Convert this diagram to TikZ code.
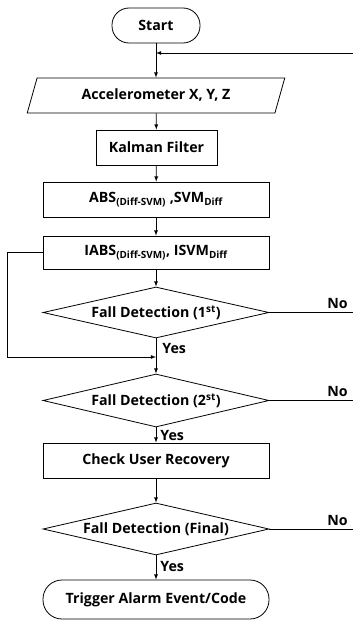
\documentclass[tikz,border=0pt]{standalone}
\usepackage{fontspec}
\setmainfont{Open Sans}
\usetikzlibrary{
  % enables trapezium and diamond
  shapes.geometric,%
  arrows,
  calc
}
\tikzset{>=latex}
\tikzset{every node/.style={font=\fontsize{14.2}{17}\selectfont\bfseries}}
\tikzset{
  terminal/.style={draw, rectangle, rounded corners=17pt, minimum height=35pt, inner sep=0pt},
  process/.style={draw, rectangle, minimum width=226pt, minimum height=35pt, inner sep=0pt},
  io/.style={draw, trapezium, trapezium left angle=64, trapezium right angle=116,
    trapezium stretches=true, minimum width=258pt, minimum height=35pt, inner sep=0pt},
  decision/.style={draw, diamond, shape aspect=4.35, minimum width=226pt, minimum height=52pt, inner sep=0pt},
  answer/.style={inner sep=0pt}
}

\begin{document}
\begin{tikzpicture}[x=1pt, y=-1pt, line width=0.8pt]
  \useasboundingbox (0,0) rectangle (353,621);
  % boxes down the main line
  \node[terminal, minimum width=88pt] (start) at (156,25.5) {Start};
  \node[io] (accel) at (156,95.5) {Accelerometer X, Y, Z};
  \node[process, minimum width=121pt] (kalman) at (156.5,147.5) {Kalman Filter};
  \node[process] (abs) at (156,199.5) {ABS\textsubscript{(Diff-SVM)} ,SVM\textsubscript{Diff}};
  \node[process, minimum height=33pt] (iabs) at (156,252.5) {IABS\textsubscript{(Diff-SVM)}, ISVM\textsubscript{Diff}};
  \node[decision, minimum height=51pt] (fdone) at (156,312.5) {Fall Detection (1\textsuperscript{st})};
  \node[decision, minimum height=53pt] (fdtwo) at (156,400.5) {Fall Detection (2\textsuperscript{st})};
  \node[process] (check) at (156,460.5) {Check User Recovery};
  \node[decision] (fdfinal) at (156,529) {Fall Detection (Final)};
  \node[terminal, minimum width=226pt, minimum height=39pt, rounded corners=19pt] (alarm) at (156,599.5) {Trigger Alarm Event/Code};

  \coordinate (back) at (156,53);
  \coordinate (rim) at (353,53);
  \coordinate (join) at (156,357);

  \draw[->] (start) -- (accel);
  \draw[->] (rim) -- (back);
  \draw[->] (accel) -- (kalman);
  \draw[->] (kalman) -- (abs);
  \draw[->] (abs) -- (iabs);
  \draw[->] (iabs) -- (fdone);
  \draw[->] (fdone) -- (fdtwo);
  \draw[->] (iabs.west) -- ++(-35,0) |- (join);
  \draw[->] (fdtwo) -- (check);
  \draw[->] (check) -- (fdfinal);
  \draw[->] (fdfinal) -- (alarm);

  % the No exits
  \foreach \d in {fdone,fdtwo,fdfinal}
    \draw (\d.east) -- (\d.east -| rim) node[answer, above left, xshift=-5pt, yshift=3pt] {No};

  \node[answer, anchor=west] (yesone) at (162,348) {Yes};
  \node[answer, anchor=west] (yestwo) at (160,435) {Yes};
  \node[answer, anchor=west] (yesfinal) at (160,566) {Yes};
\end{tikzpicture}
\end{document}
